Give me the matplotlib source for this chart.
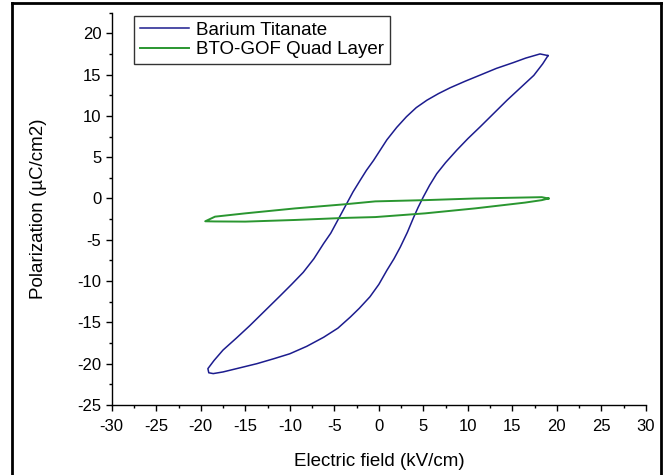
import numpy as np
import matplotlib
matplotlib.use('Agg')
import matplotlib.pyplot as plt
from matplotlib.ticker import MultipleLocator
from matplotlib.lines import Line2D

plt.rcParams['font.family'] = ['Liberation Sans', 'DejaVu Sans']
plt.rcParams['axes.unicode_minus'] = False

# Barium Titanate loop: descending branch (from +Emax) then ascending branch
bto_e_desc = [19.0, 18.1, 16.5, 15.1, 13.2, 11.4, 9.7, 8.0, 6.7, 5.4, 4.2, 3.1, 2.0, 0.9,
              -0.6, -1.4, -2.1, -2.9, -3.6, -4.1, -4.7, -5.4, -6.2, -7.3, -8.5, -9.8,
              -11.1, -12.8, -14.5, -16.0, -17.5, -18.5, -19.2]
bto_p_desc = [17.3, 17.5, 17.0, 16.45, 15.75, 14.95, 14.2, 13.4, 12.7, 11.9, 11.0, 9.9, 8.6, 7.1,
              4.6, 3.4, 2.2, 0.8, -0.6, -1.6, -2.8, -4.2, -5.45, -7.3, -8.95, -10.4,
              -11.8, -13.6, -15.4, -16.9, -18.35, -19.6, -20.6]
bto_e_asc = [-19.1, -18.6, -17.5, -15.6, -13.7, -11.8, -10.0, -8.1, -6.2, -4.6, -3.2, -2.2,
             -1.0, 0.0, 0.9, 1.7, 2.4, 3.2, 3.9, 4.4, 5.0, 5.7, 6.5, 7.5, 8.75, 10.0,
             11.4, 12.9, 14.4, 15.9, 17.4, 18.4, 19.0]
bto_p_asc = [-21.1, -21.2, -21.0, -20.5, -20.0, -19.4, -18.8, -17.9, -16.8, -15.7, -14.35, -13.3,
             -11.9, -10.4, -8.7, -7.3, -5.9, -4.1, -2.3, -1.1, 0.2, 1.6, 3.0, 4.35, 5.85, 7.25,
             8.7, 10.3, 11.9, 13.4, 14.9, 16.3, 17.3]

# BTO-GOF quad layer loop
gof_e_upper = [19.05, 18.3, 16.4, 10.8, 5.2, -0.4, -3.8, -9.4, -15.0, -18.4, -19.5]
gof_p_upper = [0.0, 0.16, 0.12, 0.0, -0.2, -0.35, -0.7, -1.2, -1.8, -2.2, -2.76]
gof_e_lower = [-19.5, -18.4, -15.0, -9.4, -3.8, -0.4, 5.2, 10.8, 16.4, 18.3, 19.05]
gof_p_lower = [-2.76, -2.78, -2.8, -2.6, -2.35, -2.25, -1.8, -1.2, -0.5, -0.2, 0.0]

bto_e = bto_e_desc + bto_e_asc
bto_p = bto_p_desc + bto_p_asc
gof_e = gof_e_upper + gof_e_lower
gof_p = gof_p_upper + gof_p_lower

fig = plt.figure(figsize=(6.65, 4.75), dpi=100)
ax = fig.add_axes([0.168, 0.1474, 0.8034, 0.826])

ax.plot(bto_e, bto_p, color='#1c1c8e', linewidth=1.1, label='Barium Titanate')
ax.plot(gof_e, gof_p, color='#2a9630', linewidth=1.4, label='BTO-GOF Quad Layer')

ax.set_xlim(-30, 30)
ax.set_ylim(-25, 22.5)
ax.xaxis.set_major_locator(MultipleLocator(5))
ax.xaxis.set_minor_locator(MultipleLocator(2.5))
ax.yaxis.set_major_locator(MultipleLocator(5))
ax.yaxis.set_minor_locator(MultipleLocator(2.5))

for side in ['top', 'right']:
    ax.spines[side].set_visible(False)
for side in ['left', 'bottom']:
    ax.spines[side].set_linewidth(1.0)

ax.tick_params(which='major', direction='out', length=4.5, width=1.0, labelsize=12)
ax.tick_params(axis='x', which='major', pad=5.5)
ax.tick_params(axis='y', which='major', pad=3)
ax.tick_params(which='minor', direction='out', length=2.5, width=1.0)

ax.set_xlabel('Electric field (kV/cm)', fontsize=13.5, labelpad=14)
ax.set_ylabel('Polarization (\u00b5C/cm2)', fontsize=13.5, labelpad=22)

leg = ax.legend(loc='upper left', bbox_to_anchor=(0.042, 0.992), fontsize=13.5,
                frameon=True, fancybox=False, handlelength=2.6, handletextpad=0.4,
                borderpad=0.3, labelspacing=0.15, borderaxespad=0)
leg.get_frame().set_edgecolor('black')
leg.get_frame().set_linewidth(1.0)

# outer border of the picture (left, top, right)
W, H = 665.0, 475.0
border = dict(color='black', linewidth=2.0, transform=fig.transFigure)
fig.add_artist(Line2D([12 / W, 12 / W], [0, 1 - 3 / H], **border))
fig.add_artist(Line2D([12 / W, 661 / W], [1 - 3 / H, 1 - 3 / H], **border))
fig.add_artist(Line2D([661 / W, 661 / W], [0, 1 - 3 / H], **border))

fig.savefig('out.png', dpi=100)
